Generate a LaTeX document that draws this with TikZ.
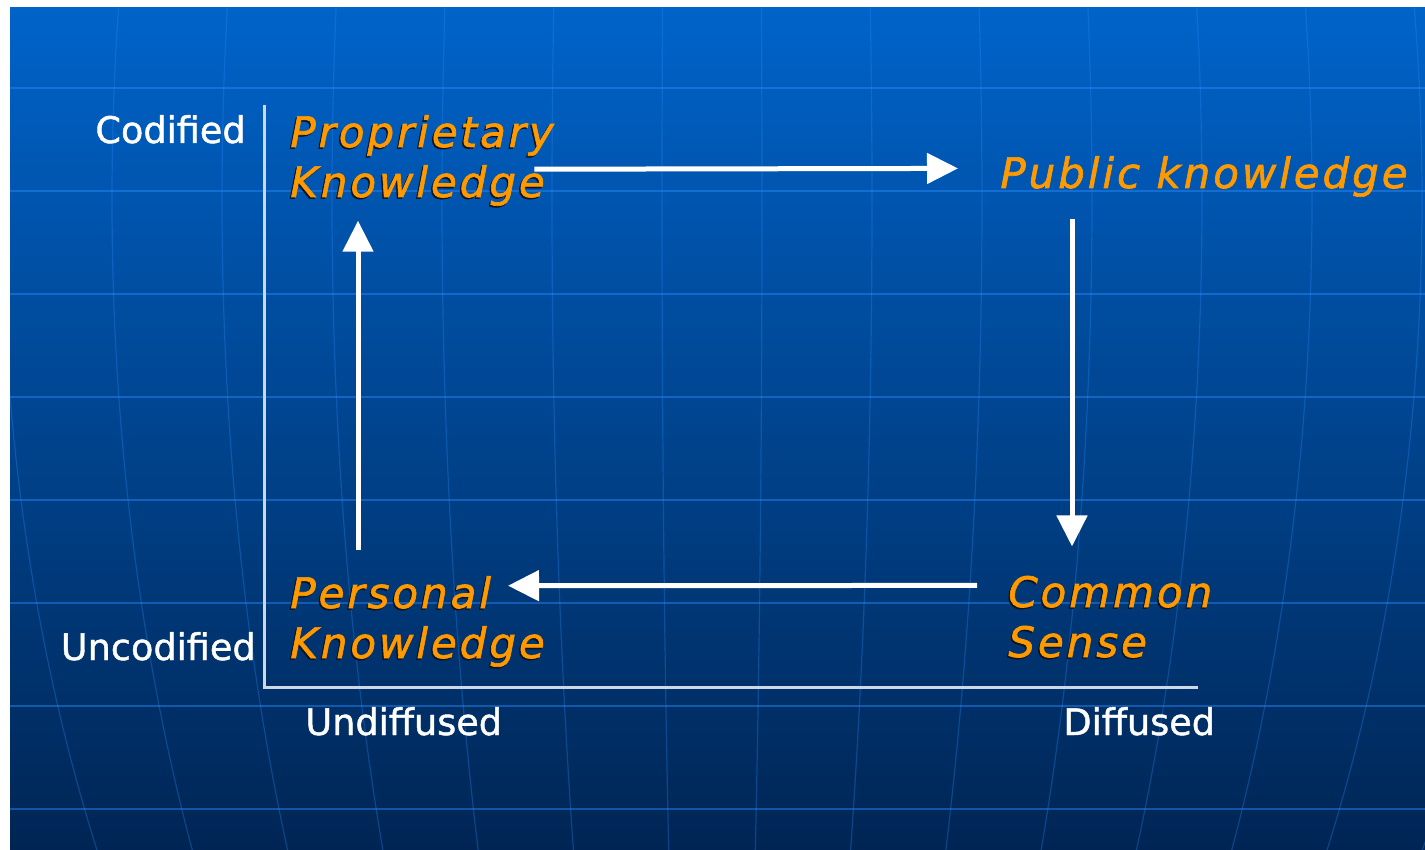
\documentclass[tikz,border=0pt]{standalone}
\usepackage{fontspec}
\setmainfont{DejaVu Sans}
\newfontfamily\labelfont[FakeBold=1.2]{DejaVu Sans}
\newfontfamily\knowfont[LetterSpace=7,FakeBold=1.5]{DejaVu Sans}
\usetikzlibrary{calc,arrows.meta}

\definecolor{bgtop}{RGB}{0,99,201}
\definecolor{bgbot}{RGB}{0,37,84}
\definecolor{gridblue}{RGB}{40,140,255}
\definecolor{knoworange}{RGB}{255,153,0}
\definecolor{axisgrey}{RGB}{205,215,232}
\definecolor{textshadow}{RGB}{10,20,40}

% orange text with a dark drop shadow
\newcommand{\shadowed}[1]{\rlap{\kern-0.7pt\raisebox{-0.8pt}{\color{textshadow}#1}}#1}

\tikzset{
  axislabel/.style={text=white, inner sep=0pt, font=\labelfont\fontsize{18.3}{22}\selectfont},
  know/.style={text=knoworange, inner sep=0pt, align=left,
    font=\knowfont\itshape\fontsize{21}{25}\selectfont},
  flow/.style={draw=white, line width=2.5pt, -{Triangle[length=15.5pt,width=15pt]}},
  axis/.style={draw=axisgrey, line width=1.5pt},
  meridian/.style={draw=gridblue, opacity=0.3, line width=0.6pt},
  parallel/.style={draw=gridblue, opacity=0.45, line width=1pt}
}

\begin{document}
\begin{tikzpicture}[x=0.5pt,y=-0.5pt]
  \useasboundingbox (0,0) rectangle (1425,850);

  %backdrop
  \shade[top color=bgtop, bottom color=bgbot] (10,8) rectangle (1425,850);
  \begin{scope}
    \clip (10,8) rectangle (1425,850);
    %globe lines
    \foreach \r in {50,160,...,820}
      \draw[meridian] (712,200) ellipse[x radius=\r, y radius=1300];
    \foreach \y in {88,191,...,809}
      \draw[parallel] (10,\y) -- (1425,\y);
  \end{scope}

  %axes
  \coordinate (origin) at (264,687);
  \coordinate (ytop) at (264,105);
  \coordinate (xend) at (1198,687);
  \draw[axis] (ytop) -- (origin) -- (xend);

  %axis labels
  \node[axislabel, anchor=base east] (cod) at (246,143) {Codified};
  \node[axislabel, anchor=base east] (uncod) at (256,660) {Uncodified};
  \node[axislabel, anchor=base west] (undiff) at (305,735) {Undiffused};
  \node[axislabel, anchor=base west] (diff) at (1063,735) {Diffused};

  %kinds of knowledge (base = last line)
  \node[know, anchor=base west] (prop) at (290,197) {\shadowed{Proprietary}\\\shadowed{Knowledge}};
  \node[know, anchor=base west] (pub) at (1000,188) {Public knowledge};
  \node[know, anchor=base west] (comm) at (1008,657) {\shadowed{Common}\\\shadowed{Sense}};
  \node[know, anchor=base west] (pers) at (290,658) {\shadowed{Personal}\\\shadowed{Knowledge}};

  %cycle
  \draw[flow] ([xshift=-10pt,yshift=-4pt]prop.east) -- ([xshift=-21pt,yshift=4pt]pub.west);
  \draw[flow] ([xshift=36pt,yshift=-11pt]pub.south west) -- ([xshift=32pt,yshift=14.5pt]comm.north west);
  \draw[flow] ([xshift=-15.5pt,yshift=-5pt]comm.north west) -- ([xshift=109pt,yshift=-5pt]pers.north west);
  \draw[flow] ([xshift=34pt,yshift=13pt]pers.north west) -- ([xshift=34pt,yshift=-6.5pt]prop.south west);
\end{tikzpicture}
\end{document}
